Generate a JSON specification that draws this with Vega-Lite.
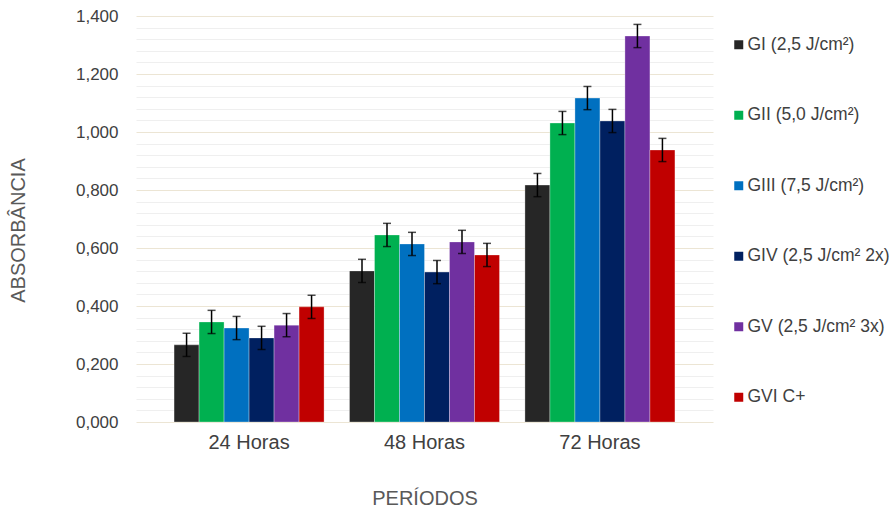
{
  "$schema": "https://vega.github.io/schema/vega-lite/v6.json",
  "width": 577,
  "height": 406,
  "autosize": {"type": "none"},
  "padding": {"left": 136, "top": 16, "right": 183, "bottom": 86},
  "background": "white",
  "data": {
    "values": [
      {"periodo": "24 Horas", "grupo": "GI (2,5 J/cm²)", "valor": 0.266, "low": 0.226, "high": 0.306},
      {"periodo": "24 Horas", "grupo": "GII (5,0 J/cm²)", "valor": 0.345, "low": 0.305, "high": 0.385},
      {"periodo": "24 Horas", "grupo": "GIII (7,5 J/cm²)", "valor": 0.324, "low": 0.284, "high": 0.364},
      {"periodo": "24 Horas", "grupo": "GIV (2,5 J/cm² 2x)", "valor": 0.290, "low": 0.250, "high": 0.330},
      {"periodo": "24 Horas", "grupo": "GV (2,5 J/cm² 3x)", "valor": 0.334, "low": 0.294, "high": 0.374},
      {"periodo": "24 Horas", "grupo": "GVI C+", "valor": 0.397, "low": 0.357, "high": 0.437},
      {"periodo": "48 Horas", "grupo": "GI (2,5 J/cm²)", "valor": 0.521, "low": 0.481, "high": 0.561},
      {"periodo": "48 Horas", "grupo": "GII (5,0 J/cm²)", "valor": 0.645, "low": 0.605, "high": 0.685},
      {"periodo": "48 Horas", "grupo": "GIII (7,5 J/cm²)", "valor": 0.614, "low": 0.574, "high": 0.654},
      {"periodo": "48 Horas", "grupo": "GIV (2,5 J/cm² 2x)", "valor": 0.517, "low": 0.477, "high": 0.557},
      {"periodo": "48 Horas", "grupo": "GV (2,5 J/cm² 3x)", "valor": 0.621, "low": 0.581, "high": 0.661},
      {"periodo": "48 Horas", "grupo": "GVI C+", "valor": 0.576, "low": 0.536, "high": 0.616},
      {"periodo": "72 Horas", "grupo": "GI (2,5 J/cm²)", "valor": 0.817, "low": 0.777, "high": 0.857},
      {"periodo": "72 Horas", "grupo": "GII (5,0 J/cm²)", "valor": 1.031, "low": 0.991, "high": 1.071},
      {"periodo": "72 Horas", "grupo": "GIII (7,5 J/cm²)", "valor": 1.117, "low": 1.077, "high": 1.157},
      {"periodo": "72 Horas", "grupo": "GIV (2,5 J/cm² 2x)", "valor": 1.038, "low": 0.998, "high": 1.078},
      {"periodo": "72 Horas", "grupo": "GV (2,5 J/cm² 3x)", "valor": 1.331, "low": 1.291, "high": 1.371},
      {"periodo": "72 Horas", "grupo": "GVI C+", "valor": 0.938, "low": 0.898, "high": 0.978}
    ]
  },
  "encoding": {
    "x": {
      "field": "periodo",
      "type": "nominal",
      "sort": ["24 Horas", "48 Horas", "72 Horas"],
      "scale": {"paddingInner": 0.145, "paddingOuter": 0.217},
      "title": "PERÍODOS",
      "axis": {
        "labelAngle": 0,
        "domain": false,
        "ticks": false,
        "labelPadding": 10,
        "labelFont": "Liberation Sans",
        "labelFontSize": 20,
        "labelColor": "#404040",
        "titleFont": "Liberation Sans",
        "titleFontSize": 20,
        "titleFontWeight": "normal",
        "titleColor": "#595959",
        "titlePadding": 36
      }
    },
    "xOffset": {
      "field": "grupo",
      "type": "nominal",
      "sort": ["GI (2,5 J/cm²)", "GII (5,0 J/cm²)", "GIII (7,5 J/cm²)", "GIV (2,5 J/cm² 2x)", "GV (2,5 J/cm² 3x)", "GVI C+"],
      "scale": {"paddingInner": 0, "paddingOuter": 0}
    }
  },
  "layer": [
    {
      "mark": {"type": "bar", "stroke": "#ffffff", "strokeWidth": 0.5, "strokeOpacity": 0.6},
      "encoding": {
        "y": {
          "field": "valor",
          "type": "quantitative",
          "title": "ABSORBÂNCIA",
          "scale": {"domain": [0, 1.4], "nice": false, "zero": true},
          "axis": {
            "values": [0, 0.04, 0.08, 0.12, 0.16, 0.2, 0.24, 0.28, 0.32, 0.36, 0.4, 0.44, 0.48, 0.52, 0.56, 0.6, 0.64, 0.68, 0.72, 0.76, 0.8, 0.84, 0.88, 0.92, 0.96, 1.0, 1.04, 1.08, 1.12, 1.16, 1.2, 1.24, 1.28, 1.32, 1.36, 1.4],
            "tickCount": 100,
            "labelExpr": "round(datum.value*100) % 20 === 0 ? replace(format(datum.value, '.3f'), '.', ',') : ''",
            "labelOverlap": false,
            "labelFlush": false,
            "domain": false,
            "ticks": false,
            "grid": true,
            "gridColor": {"condition": {"test": "round(datum.value*100) % 20 === 0", "value": "#ece5d4"}, "value": "#efefef"},
            "gridWidth": 1,
            "labelPadding": 18,
            "labelFont": "Liberation Sans",
            "labelFontSize": 17,
            "labelColor": "#404040",
            "titleFont": "Liberation Sans",
            "titleFontSize": 20,
            "titleFontWeight": "normal",
            "titleColor": "#595959",
            "titlePadding": 47,
            "titleY": 214
          }
        },
        "color": {
          "field": "grupo",
          "type": "nominal",
          "scale": {
            "domain": ["GI (2,5 J/cm²)", "GII (5,0 J/cm²)", "GIII (7,5 J/cm²)", "GIV (2,5 J/cm² 2x)", "GV (2,5 J/cm² 3x)", "GVI C+"],
            "range": ["#262626", "#00b050", "#0070c0", "#002060", "#7030a0", "#c00000"]
          },
          "legend": {
            "orient": "none",
            "legendX": 594,
            "legendY": 20,
            "title": null,
            "padding": 0,
            "symbolType": "square",
            "symbolSize": 81,
            "symbolStrokeWidth": 0,
            "labelFont": "Liberation Sans",
            "labelFontSize": 17.5,
            "labelColor": "#404040",
            "labelOffset": 0,
            "labelLimit": 200,
            "rowPadding": 51.5
          }
        }
      }
    },
    {
      "mark": {"type": "rule", "color": "#000000", "strokeWidth": 1.5},
      "encoding": {
        "y": {"field": "low", "type": "quantitative", "title": "ABSORBÂNCIA"},
        "y2": {"field": "high"}
      }
    },
    {
      "mark": {"type": "tick", "color": "#000000", "size": 8, "thickness": 1.5},
      "encoding": {
        "y": {"field": "low", "type": "quantitative", "title": "ABSORBÂNCIA"}
      }
    },
    {
      "mark": {"type": "tick", "color": "#000000", "size": 8, "thickness": 1.5},
      "encoding": {
        "y": {"field": "high", "type": "quantitative", "title": "ABSORBÂNCIA"}
      }
    }
  ],
  "config": {"view": {"stroke": null}}
}
